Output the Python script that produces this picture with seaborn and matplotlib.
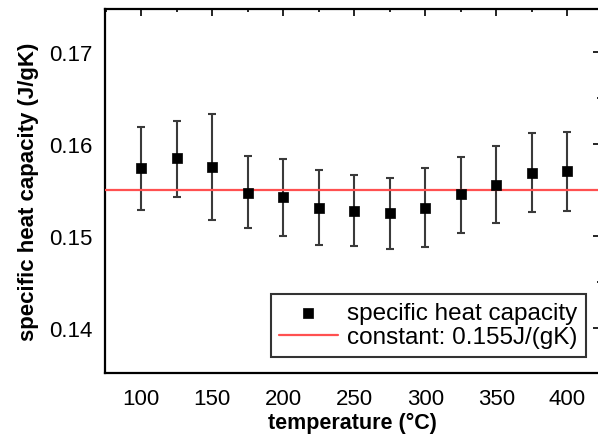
import numpy as np
import pandas as pd
import matplotlib
matplotlib.use("Agg")
import matplotlib.pyplot as plt
import seaborn as sns
from matplotlib.ticker import MultipleLocator

temperature = [100, 125, 150, 175, 200, 225, 250, 275, 300, 325, 350, 375, 400]
capacity = [0.1574, 0.1585, 0.1575, 0.1547, 0.1542, 0.1531, 0.1527, 0.1525, 0.1531, 0.1546, 0.1556, 0.1569, 0.1571]
upper = [0.1619, 0.1625, 0.1633, 0.1587, 0.1584, 0.1572, 0.1566, 0.1563, 0.1574, 0.1586, 0.1598, 0.1612, 0.1613]
lower = [0.1528, 0.1543, 0.1517, 0.1509, 0.1500, 0.1490, 0.1489, 0.1486, 0.1488, 0.1503, 0.1514, 0.1526, 0.1527]
constant = 0.155
x_ticks = [100, 150, 200, 250, 300, 350, 400]
y_ticks = [0.14, 0.15, 0.16, 0.17]

sns.set_theme(style="white")
plt.rcParams['font.family'] = ['Liberation Sans', 'DejaVu Sans']
plt.rcParams['text.color'] = 'black'
plt.rcParams['axes.labelcolor'] = 'black'
plt.rcParams['xtick.color'] = 'black'
plt.rcParams['ytick.color'] = 'black'

df = pd.DataFrame({"temperature": temperature, "capacity": capacity,
                   "upper": upper, "lower": lower})

fig = plt.figure(figsize=(5.98, 4.39), dpi=100)
ax = fig.add_axes([105/598, 1 - 374/439, (600 - 105)/598, (374 - 10)/439])

yerr = np.array([df["capacity"] - df["lower"], df["upper"] - df["capacity"]])
ax.errorbar(df["temperature"], df["capacity"], yerr=yerr, fmt="none",
            ecolor="#3a3a3a", elinewidth=1.5, capsize=3.2, capthick=1.5, zorder=2)
sns.scatterplot(data=df, x="temperature", y="capacity", ax=ax, marker="s",
                s=55, color="black", edgecolor="black", linewidth=0.5,
                zorder=4, label="specific heat capacity")
ax.axhline(constant, color="#ff5050", lw=1.6, zorder=3,
           label="constant: 0.155J/(gK)")

ax.set_xlim(74.6, 423)
ax.set_ylim(0.1351, 0.1747)
ax.set_xticks(x_ticks)
ax.set_yticks(y_ticks)
ax.set_yticklabels([f"{v:.2f}" for v in y_ticks])
ax.xaxis.set_minor_locator(MultipleLocator(25))
ax.yaxis.set_minor_locator(MultipleLocator(0.005))
ax.tick_params(which="both", direction="in", top=True, right=True,
               labelsize=16, color="black", width=1.2)
ax.tick_params(axis="x", which="major", pad=11)
ax.tick_params(axis="y", which="major", pad=9)
ax.tick_params(which="major", length=5)
ax.tick_params(which="minor", length=2.5)
for s in ax.spines.values():
    s.set_color("black")
    s.set_linewidth(1.6)

ax.set_xlabel("temperature (°C)", fontsize=15.5, fontweight="bold", labelpad=2)
ax.set_ylabel("specific heat capacity (J/gK)", fontsize=16, fontweight="bold", labelpad=7)

leg = ax.legend(loc="lower right", bbox_to_anchor=(0.972, 0.044), borderaxespad=0,
                fontsize=17.5, frameon=True, fancybox=False, edgecolor="black",
                handlelength=2.4, handletextpad=0.4, borderpad=0.35, labelspacing=0.1)
leg.get_frame().set_linewidth(1.5)
for t in leg.get_texts():
    t.set_color("black")

fig.savefig("out.png", dpi=100)
